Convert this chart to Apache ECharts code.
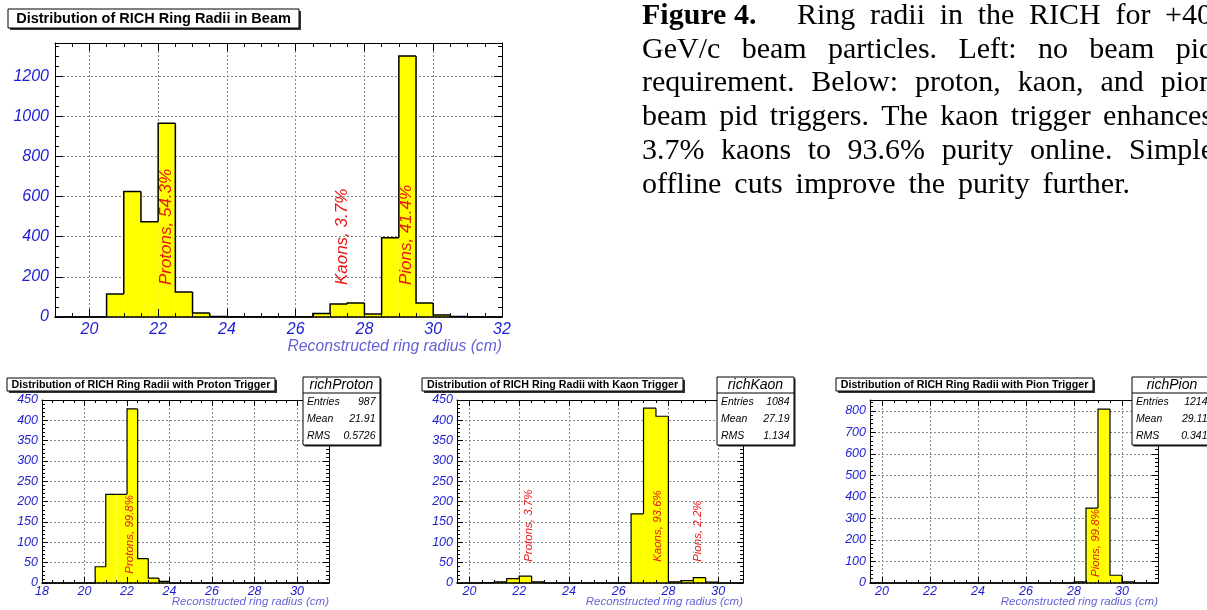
<!DOCTYPE html>
<html>
<head>
<meta charset="utf-8">
<script src="https://cdn.jsdelivr.net/npm/echarts@6/dist/echarts.min.js"></script>
<style>
html, body { margin: 0; padding: 0; background: #fff; }
#chart { width: 1207px; height: 610px; }
</style>
</head>
<body>
<div id="chart"></div>
<script>
const chart = echarts.init(document.getElementById("chart"));

// every histogram uses 0.5 cm bins
const BIN_WIDTH = 0.5;

// beam, no pid requirement (bins start at 19 cm)
const beamStart = 19;
const beamCounts = [0, 0, 0, 115, 625, 475, 965, 125, 20, 2, 1, 1, 1, 1, 1, 18, 65, 70, 15, 395, 1300, 70, 10, 2, 0, 0];
const beamNotes = [["Protons, 54.3%", 22.25, 159], ["Kaons, 3.7%", 27.34, 159], ["Pions, 41.4%", 29.23, 159]];

// proton trigger (bins start at 18 cm)
const protonStart = 18;
const protonCounts = [0, 0, 0, 0, 0, 40, 218, 218, 428, 60, 12, 4, 0, 0, 0, 0, 0, 0, 0, 0, 0, 0, 0, 0, 0, 0, 0];
const protonNotes = [["Protons, 99.8%", 22.15, 23]];
const protonStats = ["richProton", "987", "21.91", "0.5726"];

// kaon trigger (bins start at 19.5 cm)
const kaonStart = 19.5;
const kaonCounts = [0, 0, 1, 3, 11, 17, 3, 0, 0, 0, 0, 0, 0, 0, 170, 430, 410, 3, 6, 13, 2, 0, 0];
const kaonNotes = [["Protons, 3.7%", 22.38, 52], ["Kaons, 93.6%", 27.56, 52], ["Pions, 2.2%", 29.19, 52]];
const kaonStats = ["richKaon", "1084", "27.19", "1.134"];

// pion trigger (bins start at 19.5 cm)
const pionStart = 19.5;
const pionCounts = [0, 0, 0, 0, 0, 0, 0, 0, 0, 0, 0, 0, 0, 0, 0, 0, 0, 5, 348, 808, 36, 5, 0, 0];
const pionNotes = [["Pions, 99.8%", 28.9, 28]];
const pionStats = ["richPion", "1214", "29.11", "0.341"];

const STAT_LABELS = ["Entries", "Mean", "RMS"];
const X_TITLE = "Reconstructed ring radius (cm)";

// caption lines: [text, left x, right x] (justified like the paper)
const CAPTION = [
  ["Ring radii in the RICH for +40", 797, 1212],
  ["GeV/c beam particles. Left: no beam pid", 642, 1214],
  ["requirement. Below: proton, kaon, and pion", 642, 1214],
  ["beam pid triggers. The kaon trigger enhances", 642, 1213],
  ["3.7% kaons to 93.6% purity online. Simple", 642, 1214],
  ["offline cuts improve the purity further.", 642, 1130]
];

const LABEL_BLUE = "#1d1dd2";
const TITLE_BLUE = "#6262d6";
const NOTE_RED = "#e81515";
const SANS = '"Liberation Sans", Arial, sans-serif';
const SERIF = '"Liberation Serif", "Times New Roman", serif';
const CAPTION_FONT = `30px ${SERIF}`;

const PANELS = [
  { grid: { left: 55, top: 43, width: 447, height: 274 }, xMin: 19, xMax: 32, yMax: 1365, yInterval: 200, yMinor: 4,
    start: beamStart, counts: beamCounts, notes: beamNotes, stats: null,
    title: "Distribution of RICH Ring Radii in Beam", titleBox: [8, 9, 291, 19], titleSize: 14.5,
    labelSize: 16, titleFont: 15.7, noteSize: 17, tickLen: 8, lw: 1.5, xMargin: 5, yMargin: 6,
    showMinX: false, showMaxX: true, xTitleY: 347 },
  { grid: { left: 42, top: 400, width: 287, height: 183 }, xMin: 18, xMax: 31.5, yMax: 450, yInterval: 50, yMinor: 5,
    start: protonStart, counts: protonCounts, notes: protonNotes, stats: protonStats, statBox: [303, 377, 77, 68],
    title: "Distribution of RICH Ring Radii with Proton Trigger", titleBox: [7, 378, 268, 13], titleSize: 10.7,
    labelSize: 12.5, titleFont: 11.5, noteSize: 11.5, tickLen: 6, lw: 1.2, xMargin: 2, yMargin: 4,
    showMinX: true, showMaxX: false, xTitleY: 602 },
  { grid: { left: 457, top: 400, width: 286, height: 183 }, xMin: 19.5, xMax: 31, yMax: 450, yInterval: 50, yMinor: 5,
    start: kaonStart, counts: kaonCounts, notes: kaonNotes, stats: kaonStats, statBox: [717, 377, 77, 68],
    title: "Distribution of RICH Ring Radii with Kaon Trigger", titleBox: [422, 378, 261, 13], titleSize: 10.7,
    labelSize: 12.5, titleFont: 11.5, noteSize: 11.5, tickLen: 6, lw: 1.2, xMargin: 2, yMargin: 4,
    showMinX: false, showMaxX: false, xTitleY: 602 },
  { grid: { left: 870, top: 400, width: 288, height: 183 }, xMin: 19.5, xMax: 31.5, yMax: 850, yInterval: 100, yMinor: 5,
    start: pionStart, counts: pionCounts, notes: pionNotes, stats: pionStats, statBox: [1132, 377, 80, 68],
    title: "Distribution of RICH Ring Radii with Pion Trigger", titleBox: [836, 378, 257, 13], titleSize: 10.7,
    labelSize: 12.5, titleFont: 11.5, noteSize: 11.5, tickLen: 6, lw: 1.2, xMargin: 2, yMargin: 4,
    showMinX: false, showMaxX: false, xTitleY: 602 }
];

function histItems(start, counts) {
  return counts.map((c, i) => [
    start + i * BIN_WIDTH, start + (i + 1) * BIN_WIDTH, c,
    i ? counts[i - 1] : 0, i === counts.length - 1 ? 1 : 0
  ]);
}

function renderFill(params, api) {
  const a = api.coord([api.value(0), api.value(2)]);
  const b = api.coord([api.value(1), 0]);
  return {
    type: "rect",
    shape: { x: a[0], y: a[1], width: b[0] - a[0], height: b[1] - a[1] },
    style: { fill: "#ffff00" }
  };
}

function outlineRenderer(lw) {
  return (params, api) => {
    const top = api.coord([api.value(0), api.value(2)]);
    const end = api.coord([api.value(1), 0]);
    const prev = api.coord([api.value(0), api.value(3)]);
    const pts = [[top[0], prev[1]], [top[0], top[1]], [end[0], top[1]]];
    if (api.value(4)) pts.push([end[0], end[1]]);
    return {
      type: "polyline",
      shape: { points: pts },
      style: { stroke: "#000", lineWidth: lw, fill: null }
    };
  };
}

function noteRenderer(notes, size) {
  return (params, api) => {
    const p = api.coord([api.value(0), api.value(1)]);
    return {
      type: "text",
      x: p[0], y: p[1],
      rotation: Math.PI / 2,
      style: {
        text: notes[params.dataIndex][0], fill: NOTE_RED,
        font: `italic ${size}px ${SANS}`,
        align: "left", verticalAlign: "middle", textAlign: "left", textVerticalAlign: "middle"
      }
    };
  };
}

const plain = v => String(v);
const grids = [], xAxes = [], yAxes = [], series = [], graphics = [];

PANELS.forEach((p, gi) => {
  grids.push({ ...p.grid, containLabel: false });
  const tick = { inside: true, length: p.tickLen, lineStyle: { color: "#000", width: 1 } };
  const minor = { show: true, length: p.tickLen / 2, lineStyle: { color: "#000", width: 1 } };
  const dotted = { show: true, lineStyle: { color: "#8a8a8a", type: [2, 2], width: 1 } };
  const xBase = { type: "value", gridIndex: gi, min: p.xMin, max: p.xMax, splitNumber: 6 };
  const yBase = { type: "value", gridIndex: gi, min: 0, max: p.yMax, interval: p.yInterval };
  const label = {
    color: LABEL_BLUE, fontStyle: "italic", fontFamily: SANS, fontSize: p.labelSize, formatter: plain
  };
  // primary axes: labels and ticks drawn above the bars
  xAxes.push({
    ...xBase, position: "bottom", z: 5,
    axisLine: { onZero: false, lineStyle: { color: "#000", width: 1.6 } },
    axisTick: tick, minorTick: { ...minor, splitNumber: 4 },
    axisLabel: { ...label, margin: p.xMargin, showMinLabel: p.showMinX, showMaxLabel: p.showMaxX },
    splitLine: { show: false }
  });
  // secondary axes: frame, opposite ticks and dotted grid under the bars
  xAxes.push({
    ...xBase, position: "top", z: 0,
    axisLine: { onZero: false, lineStyle: { color: "#000", width: 1 } },
    axisTick: tick, minorTick: { ...minor, splitNumber: 4 },
    axisLabel: { show: false }, splitLine: dotted
  });
  yAxes.push({
    ...yBase, position: "left", z: 5,
    axisLine: { show: true, onZero: false, lineStyle: { color: "#000", width: 1 } },
    axisTick: tick, minorTick: { ...minor, splitNumber: p.yMinor },
    axisLabel: { ...label, margin: p.yMargin, showMaxLabel: p.yMax % p.yInterval === 0 },
    splitLine: { show: false }
  });
  yAxes.push({
    ...yBase, position: "right", z: 0,
    axisLine: { show: true, onZero: false, lineStyle: { color: "#000", width: 1 } },
    axisTick: tick, minorTick: { ...minor, splitNumber: p.yMinor },
    axisLabel: { show: false }, splitLine: dotted
  });

  const items = histItems(p.start, p.counts);
  const axisRef = { xAxisIndex: gi * 2, yAxisIndex: gi * 2 };
  series.push({
    type: "custom", ...axisRef, z: 2, silent: true,
    renderItem: renderFill, encode: { x: [0, 1], y: 2 }, data: items
  });
  series.push({
    type: "custom", ...axisRef, z: 3, silent: true,
    renderItem: outlineRenderer(p.lw), encode: { x: [0, 1], y: 2 }, data: items
  });
  series.push({
    type: "custom", ...axisRef, z: 4, silent: true,
    renderItem: noteRenderer(p.notes, p.noteSize), encode: { x: 0, y: 1 },
    data: p.notes.map(n => [n[1], n[2]])
  });

  // title box with shadow
  const [tx, ty, tw, th] = p.titleBox;
  graphics.push({ type: "rect", shape: { x: tx + 2, y: ty + 2, width: tw, height: th }, style: { fill: "#333" }, z: 10 });
  graphics.push({ type: "rect", shape: { x: tx, y: ty, width: tw, height: th }, style: { fill: "#fff", stroke: "#000", lineWidth: 1 }, z: 11 });
  graphics.push({
    type: "text", x: tx + tw / 2, y: ty + th / 2 + 0.5, z: 12,
    style: { text: p.title, font: `bold ${p.titleSize}px ${SANS}`, fill: "#000",
      align: "center", verticalAlign: "middle", textAlign: "center", textVerticalAlign: "middle" }
  });

  // x axis title, right aligned to the frame
  graphics.push({
    type: "text", x: p.grid.left + p.grid.width, y: p.xTitleY, z: 12,
    style: { text: X_TITLE, font: `italic ${p.titleFont}px ${SANS}`, fill: TITLE_BLUE,
      align: "right", verticalAlign: "middle", textAlign: "right", textVerticalAlign: "middle" }
  });

  // statistics box
  if (p.stats) {
    const [sx, sy, sw, sh] = p.statBox;
    graphics.push({ type: "rect", shape: { x: sx + 1.5, y: sy + 1.5, width: sw, height: sh }, style: { fill: "#222" }, z: 10 });
    graphics.push({ type: "rect", shape: { x: sx, y: sy, width: sw, height: sh }, style: { fill: "#fff", stroke: "#000", lineWidth: 1 }, z: 11 });
    graphics.push({ type: "line", shape: { x1: sx, y1: sy + 16, x2: sx + sw, y2: sy + 16 }, style: { stroke: "#000", lineWidth: 1 }, z: 12 });
    graphics.push({
      type: "text", x: sx + sw / 2, y: sy + 8, z: 12,
      style: { text: p.stats[0], font: `italic 14px ${SANS}`, fill: "#000",
        align: "center", verticalAlign: "middle", textAlign: "center", textVerticalAlign: "middle" }
    });
    STAT_LABELS.forEach((lab, k) => {
      const yy = sy + 25 + k * 17;
      graphics.push({
        type: "text", x: sx + 4, y: yy, z: 12,
        style: { text: lab, font: `italic 10.5px ${SANS}`, fill: "#000",
          align: "left", verticalAlign: "middle", textAlign: "left", textVerticalAlign: "middle" }
      });
      graphics.push({
        type: "text", x: sx + sw - 4.5, y: yy, z: 12,
        style: { text: p.stats[k + 1], font: `italic 10.5px ${SANS}`, fill: "#000",
          align: "right", verticalAlign: "middle", textAlign: "right", textVerticalAlign: "middle" }
      });
    });
  }
});

// caption text on the right, words spread to the line width
const ctx = document.createElement("canvas").getContext("2d");
ctx.font = CAPTION_FONT;
function captionWords(text, left, right, y) {
  const words = text.split(" ");
  const widths = words.map(w => ctx.measureText(w).width);
  const total = widths.reduce((s, w) => s + w, 0);
  const gap = (right - left - total) / (words.length - 1);
  let x = left;
  words.forEach((w, i) => {
    graphics.push({
      type: "text", x: x, y: y, z: 12,
      style: { text: w, font: CAPTION_FONT, fill: "#000", verticalAlign: "middle", textVerticalAlign: "middle" }
    });
    x += widths[i] + gap;
  });
}
graphics.push({
  type: "text", x: 642, y: 16, z: 12,
  style: { text: "Figure 4.", font: `bold 30px ${SERIF}`, fill: "#000", verticalAlign: "middle", textVerticalAlign: "middle" }
});
CAPTION.forEach((line, k) => {
  captionWords(line[0], line[1], line[2], 16 + k * 33.8);
});

chart.setOption({
  animation: false,
  backgroundColor: "#fff",
  grid: grids,
  xAxis: xAxes,
  yAxis: yAxes,
  series: series,
  graphic: graphics
});
</script>
</body>
</html>
